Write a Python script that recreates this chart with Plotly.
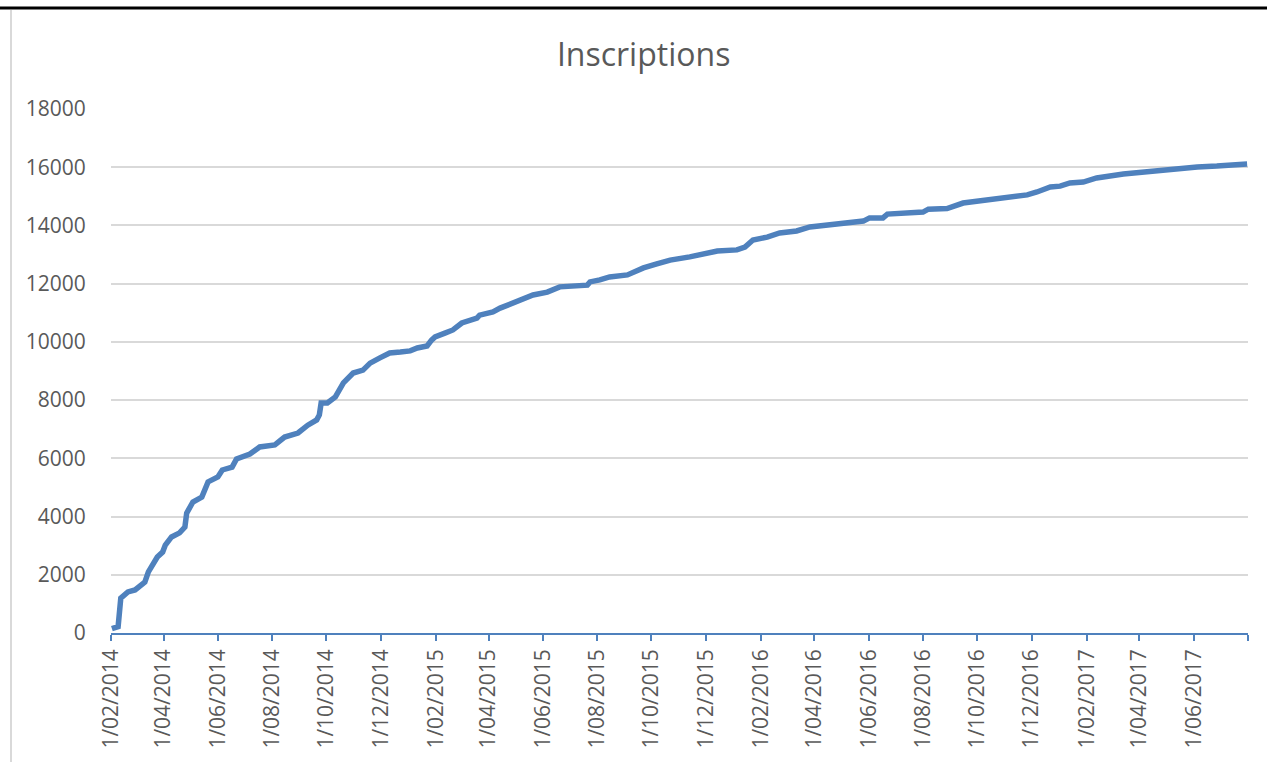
import plotly.graph_objects as go

# ---- data ----
dates = [
    "2014-02-02", "2014-02-09", "2014-02-12", "2014-02-20", "2014-02-28",
    "2014-03-11", "2014-03-15", "2014-03-25", "2014-03-31", "2014-04-03",
    "2014-04-10", "2014-04-19", "2014-04-25", "2014-04-27", "2014-05-04",
    "2014-05-14", "2014-05-21", "2014-06-01", "2014-06-06", "2014-06-17",
    "2014-06-22", "2014-07-07", "2014-07-18", "2014-08-04", "2014-08-15",
    "2014-08-30", "2014-09-10", "2014-09-20", "2014-09-23", "2014-09-25",
    "2014-10-02", "2014-10-11", "2014-10-20", "2014-10-31", "2014-11-11",
    "2014-11-19", "2014-11-30", "2014-12-11", "2014-12-23", "2015-01-03",
    "2015-01-11", "2015-01-22", "2015-01-27", "2015-01-31", "2015-02-11",
    "2015-02-20", "2015-03-02", "2015-03-19", "2015-03-22", "2015-04-06",
    "2015-04-14", "2015-04-25", "2015-05-06", "2015-05-21", "2015-06-06",
    "2015-06-20", "2015-07-21", "2015-07-24", "2015-08-04", "2015-08-15",
    "2015-09-04", "2015-09-22", "2015-10-07", "2015-10-22", "2015-11-13",
    "2015-12-02", "2015-12-14", "2016-01-05", "2016-01-14", "2016-01-23",
    "2016-02-08", "2016-02-22", "2016-03-12", "2016-03-27", "2016-04-19",
    "2016-05-11", "2016-05-26", "2016-06-02", "2016-06-17", "2016-06-22",
    "2016-07-10", "2016-07-29", "2016-08-01", "2016-08-07", "2016-08-28",
    "2016-09-15", "2016-10-04", "2016-10-30", "2016-11-26", "2016-12-07",
    "2016-12-18", "2016-12-22", "2017-01-02", "2017-01-13", "2017-01-28",
    "2017-02-12", "2017-03-14", "2017-04-13", "2017-05-13", "2017-06-05",
    "2017-06-27", "2017-07-31",
]
inscriptions = [
    150, 220, 1200, 1410, 1480,
    1750, 2100, 2610, 2780, 3020,
    3300, 3440, 3640, 4120, 4500,
    4670, 5190, 5360, 5600, 5700,
    5980, 6150, 6390, 6460, 6730,
    6870, 7140, 7320, 7490, 7900,
    7900, 8110, 8590, 8930, 9030,
    9270, 9450, 9620, 9650, 9690,
    9790, 9860, 10060, 10170, 10300,
    10410, 10650, 10820, 10920, 11030,
    11160, 11300, 11440, 11610, 11710,
    11890, 11950, 12060, 12130, 12230,
    12300, 12540, 12680, 12810, 12920,
    13020, 13120, 13160, 13260, 13500,
    13600, 13740, 13810, 13950, 14010,
    14080, 14150, 14260, 14260, 14390,
    14430, 14460, 14460, 14560, 14580,
    14770, 14840, 14910, 15050, 15150,
    15250, 15320, 15350, 15460, 15490,
    15630, 15770, 15870, 15940, 16010,
    16040, 16110,
]
tick_dates = [
    "2014-02-01", "2014-04-01", "2014-06-01", "2014-08-01", "2014-10-01",
    "2014-12-01", "2015-02-01", "2015-04-01", "2015-06-01", "2015-08-01",
    "2015-10-01", "2015-12-01", "2016-02-01", "2016-04-01", "2016-06-01",
    "2016-08-01", "2016-10-01", "2016-12-01", "2017-02-01", "2017-04-01",
    "2017-06-01", "2017-08-01",
]
tick_labels = [
    "1/02/2014", "1/04/2014", "1/06/2014", "1/08/2014", "1/10/2014",
    "1/12/2014", "1/02/2015", "1/04/2015", "1/06/2015", "1/08/2015",
    "1/10/2015", "1/12/2015", "1/02/2016", "1/04/2016", "1/06/2016",
    "1/08/2016", "1/10/2016", "1/12/2016", "1/02/2017", "1/04/2017",
    "1/06/2017", "",
]
y_ticks = [0, 2000, 4000, 6000, 8000, 10000, 12000, 14000, 16000, 18000]
y_labels = ["0", "2000", "4000", "6000", "8000", "10000", "12000", "14000",
            "16000", "18000"]
title_text = "Inscriptions"

# ---- styling ----
W, H = 1267, 762
L, R, T, B = 111, 19, 109, 129
BLUE = "#4F81BD"
GREY_TXT = "#595959"
GRID = "#D9D9D9"
FONT = "Open Sans"

fig = go.Figure()
fig.add_trace(go.Scatter(
    x=dates, y=inscriptions, mode="lines",
    line=dict(color=BLUE, width=5.5, shape="linear"),
    hoverinfo="x+y", showlegend=False,
))

plot_w = W - L - R
plot_h = H - T - B

def px_to_paper_x(px):
    return (px - L) / plot_w

def px_to_paper_y(py):
    return (H - B - py) / plot_h

fig.update_layout(
    width=W, height=H,
    margin=dict(l=L, r=R, t=T, b=B, autoexpand=False),
    paper_bgcolor="white", plot_bgcolor="white",
    font=dict(family=FONT, color=GREY_TXT, size=21),
    title=dict(
        text=title_text, x=0.508, xanchor="center",
        y=1 - 55 / H, yanchor="middle",
        font=dict(family=FONT, size=32, color=GREY_TXT),
    ),
    xaxis=dict(
        type="date", range=["2014-02-01", "2017-08-01"],
        tickmode="array", tickvals=tick_dates, ticktext=tick_labels,
        tickangle=-90, ticks="outside", ticklen=6, tickwidth=1.5,
        tickcolor=BLUE, showline=True, linecolor=BLUE, linewidth=1.5,
        showgrid=False, zeroline=False, automargin=False,
        tickfont=dict(family=FONT, size=21, color=GREY_TXT),
    ),
    yaxis=dict(
        range=[0, 18000], tickmode="array", tickvals=y_ticks,
        ticktext=y_labels,
        ticks="outside", ticklen=20, tickcolor="rgba(0,0,0,0)",
        showline=False, showgrid=True, gridcolor=GRID, gridwidth=1.5,
        zeroline=False, automargin=False,
        tickfont=dict(family=FONT, size=21, color=GREY_TXT),
    ),
    shapes=[
        dict(type="line", xref="paper", yref="paper",
             x0=px_to_paper_x(0), x1=px_to_paper_x(W),
             y0=px_to_paper_y(8), y1=px_to_paper_y(8),
             line=dict(color="black", width=3)),
        dict(type="line", xref="paper", yref="paper",
             x0=px_to_paper_x(11), x1=px_to_paper_x(11),
             y0=px_to_paper_y(10), y1=px_to_paper_y(H),
             line=dict(color=GRID, width=2)),
    ],
)

fig.write_html(
    "out.html",
    config={"displayModeBar": False},
    post_script="document.body.style.margin='0';document.body.style.overflow='hidden';",
)
